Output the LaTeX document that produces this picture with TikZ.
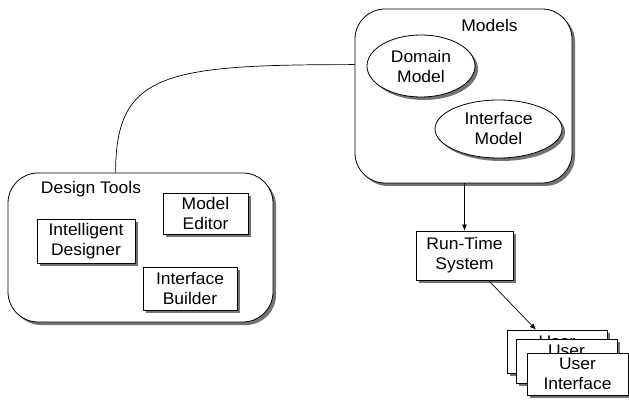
\documentclass[tikz,border=0pt]{standalone}
\usepackage{fontspec}
\setmainfont[FakeStretch=1.04]{Liberation Sans}
\usetikzlibrary{shadows,shapes.geometric,arrows.meta,calc}
\begin{document}
\begin{tikzpicture}[x=1pt,y=-1pt,
  every node/.style={font=\fontsize{16.8}{20}\selectfont, align=center, inner sep=0pt},
  shad/.style={drop shadow={shadow xshift=3pt, shadow yshift=-3pt, fill=black!55, opacity=1}},
  group/.style={draw, line width=0.8pt, fill=white, rounded corners=30pt, shad},
  boxn/.style={draw, line width=0.8pt, fill=white, rectangle, shad},
  ell/.style={draw, line width=0.8pt, fill=white, ellipse, shad},
  conn/.style={line width=0.7pt},
  arr/.style={line width=0.7pt, -{Latex[length=6pt,width=5pt]}}]
\useasboundingbox (0,0) rectangle (629,403);
% groups
\node[group, minimum width=217pt, minimum height=174pt] (models) at (463.5,96) {};
\node[group, minimum width=265pt, minimum height=149pt] (dt) at (140.5,247.5) {};
\node (modelslbl) at (489.5,25) {Models};
\node (dtlbl) at (91,189) {Design Tools};
% models contents
\node[ell, minimum width=108pt, minimum height=62pt] (dm) at (421,66) {Domain\\Model};
\node[ell, minimum width=127pt, minimum height=58pt] (im) at (498.5,129) {Interface\\Model};
% design tools contents
\node[boxn, minimum width=85pt, minimum height=41pt] (me) at (205.5,213.5) {Model\\Editor};
\node[boxn, minimum width=98pt, minimum height=44pt] (id) at (86,241) {Intelligent\\Designer};
\node[boxn, minimum width=94pt, minimum height=43pt] (ib) at (190,288.5) {Interface\\Builder};
% run-time
\node[boxn, minimum width=97pt, minimum height=49pt] (rt) at (464.5,255.5) {Run-Time\\System};
% user interfaces stack
\node[boxn, minimum width=100pt, minimum height=43pt] (ui1) at (557,351.5) {User\\\phantom{Interface}};
\node[boxn, minimum width=101pt, minimum height=44pt] (ui2) at (566.5,361) {User\\\phantom{Interface}};
\node[boxn, minimum width=101pt, minimum height=42pt] (ui3) at (577.5,374) {User\\Interface};
% connectors
\draw[conn] ($(dt.north west)+(108,0)$) .. controls ($(dt.north west)+(108,-100)$) and ($(models.north west)+(-190,56)$) .. ($(models.north west)+(0,56)$);
\draw[arr] (models.south -| rt.north) -- (rt.north);
\draw[arr] (rt) -- (ui1);
\end{tikzpicture}
\end{document}
